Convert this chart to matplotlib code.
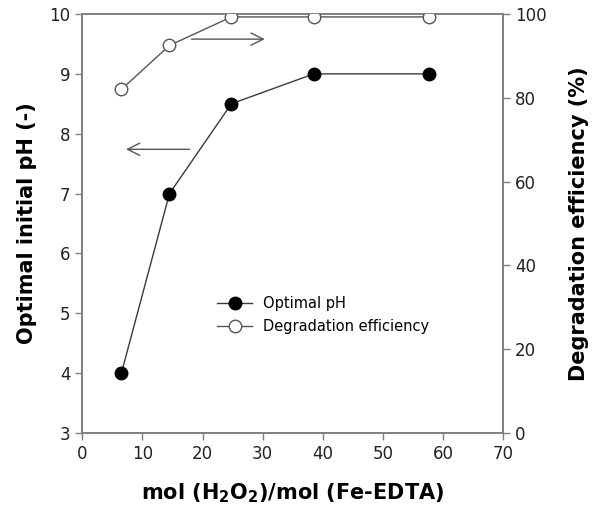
import matplotlib
matplotlib.use("Agg")
import matplotlib.pyplot as plt

# H2O2 / Fe-EDTA molar ratio
ratio = [6.5, 14.5, 24.8, 38.5, 57.7]
optimal_ph = [4.0, 7.0, 8.5, 9.0, 9.0]
degradation = [82.0, 92.5, 99.3, 99.3, 99.3]

GRAY = "#7f7f7f"
LINE = "#3a3a3a"

plt.rcParams["font.family"] = "DejaVu Sans"

fig, ax = plt.subplots(figsize=(5.92, 5.18), dpi=100)
fig.subplots_adjust(left=0.139, right=0.85, bottom=0.164, top=0.973)
ax2 = ax.twinx()

l1, = ax.plot(ratio, optimal_ph, color=LINE, lw=1.0, marker="o", ms=9,
              mfc="black", mec="black", zorder=3)
l2, = ax2.plot(ratio, degradation, color="#555555", lw=1.0, marker="o", ms=9,
               mfc="white", mec="#555555", mew=1.0, zorder=3)

ax.set_xlim(0, 70)
ax.set_ylim(3, 10)
ax2.set_ylim(0, 100)
ax.set_xticks(range(0, 71, 10))
ax.set_yticks(range(3, 11))
ax2.set_yticks(range(0, 101, 20))

for a in (ax, ax2):
    for side in a.spines.values():
        side.set_color(GRAY)
        side.set_linewidth(1.2)
    a.tick_params(direction="out", length=5, width=1.0, color=GRAY,
                  labelsize=12, labelcolor="#222222")

ax.set_xlabel(r"mol (H$_\mathbf{2}$O$_\mathbf{2}$)/mol (Fe-EDTA)",
              fontsize=15, fontweight="bold", labelpad=13)
ax.set_ylabel("Optimal initial pH (-)", fontsize=15, fontweight="bold", labelpad=9)
ax2.set_ylabel("Degradation efficiency (%)", fontsize=15, fontweight="bold", labelpad=16)

# arrows pointing at the axis each curve belongs to
arrow = dict(arrowstyle="->", color="#555555", lw=1.0, mutation_scale=22)
ax.annotate("", xy=(30.8, 9.58), xytext=(17.7, 9.58), arrowprops=arrow)
ax.annotate("", xy=(6.8, 7.74), xytext=(18.3, 7.74), arrowprops=arrow)

ax.legend([l1, l2], ["Optimal pH", "Degradation efficiency"], frameon=False,
          loc="lower left", bbox_to_anchor=(0.29, 0.205), fontsize=10.5,
          handlelength=2.4, handletextpad=0.7, labelspacing=0.55)

fig.savefig("out.png", dpi=100)
